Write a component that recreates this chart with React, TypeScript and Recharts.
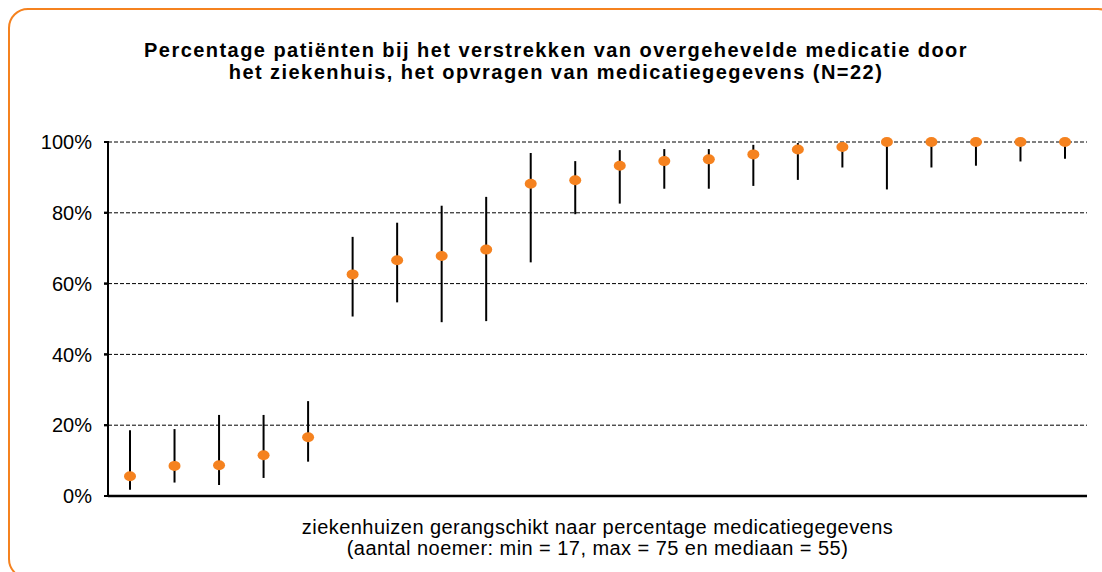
import React from 'react';
import * as Recharts from 'recharts';
import {
  ComposedChart,
  Line,
  ErrorBar,
  XAxis,
  YAxis,
  CartesianGrid,
} from 'recharts';

// ziekenhuizen, gesorteerd op percentage
const hospitals = [
  'Z1', 'Z2', 'Z3', 'Z4', 'Z5', 'Z6', 'Z7', 'Z8', 'Z9', 'Z10', 'Z11',
  'Z12', 'Z13', 'Z14', 'Z15', 'Z16', 'Z17', 'Z18', 'Z19', 'Z20', 'Z21', 'Z22',
];
const percentages = [
  5.6, 8.5, 8.7, 11.5, 16.6, 62.6, 66.6, 67.8, 69.6, 88.2, 89.2,
  93.3, 94.6, 95.1, 96.5, 97.9, 98.6, 100, 100, 100, 100, 100,
];
const lowerBounds = [
  1.8, 3.8, 3.1, 5.1, 9.7, 50.7, 54.7, 49.1, 49.4, 66.0, 79.6,
  82.6, 86.8, 86.8, 87.6, 89.3, 92.8, 86.6, 92.8, 93.3, 94.5, 95.3,
];
const upperBounds = [
  18.6, 18.9, 22.9, 22.9, 26.8, 73.2, 77.2, 82.0, 84.5, 96.9, 94.6,
  97.7, 98.0, 98.0, 99.2, 99.7, 99.9, 100, 100, 100, 100, 100,
];
const yTicks = [0, 20, 40, 60, 80, 100];

const ORANGE = '#F5821F';
const FONT = '"Liberation Sans", Arial, sans-serif';
const TICK_SIZE = 4;
const TICK_MARGIN = 12;

const data = hospitals.map((name, i) => ({
  name,
  value: percentages[i],
  err: [percentages[i] - lowerBounds[i], upperBounds[i] - percentages[i]],
}));

const Dot = (props: any) => {
  const { cx, cy, index } = props;
  if (cx == null || cy == null) return null;
  return <ellipse key={`dot-${index}`} cx={cx} cy={cy} rx={6} ry={5} fill={ORANGE} />;
};

// label + streepje per y-tick
const YTick = (props: any) => {
  const { x, y, payload } = props;
  return (
    <g>
      <line
        x1={x + TICK_MARGIN}
        x2={x + TICK_MARGIN + TICK_SIZE + 1}
        y1={y}
        y2={y}
        stroke="#000"
        strokeWidth={2}
      />
      <text
        x={x}
        y={y}
        dy="0.355em"
        textAnchor="end"
        fill="#000"
        fontSize={20}
        fontFamily={FONT}
      >
        {`${payload.value}%`}
      </text>
    </g>
  );
};

// y-as lijn langs de linkerrand van het plotgebied
const usePlotArea: any = (Recharts as any).usePlotArea;
function YAxisLine() {
  const area = usePlotArea ? usePlotArea() : null;
  if (!area) return null;
  return (
    <line
      x1={area.x}
      x2={area.x}
      y1={area.y - 1}
      y2={area.y + area.height}
      stroke="#000"
      strokeWidth={2}
    />
  );
}

export default function App() {
  return (
    <div
      style={{
        position: 'relative',
        width: 1102,
        height: 572,
        overflow: 'hidden',
        background: '#fff',
        fontFamily: FONT,
      }}
    >
      <style>{'body { margin: 0; }'}</style>
      <ComposedChart
        width={1102}
        height={572}
        data={data}
        margin={{ top: 142, right: 15, bottom: 75, left: 0 }}
      >
        <CartesianGrid
          vertical={false}
          stroke="#000"
          strokeDasharray="4 2"
        />
        <XAxis
          dataKey="name"
          tick={false}
          tickLine={false}
          height={1}
          padding={{ left: 22, right: 22 }}
          axisLine={{ stroke: '#000', strokeWidth: 2.5 }}
        />
        <YAxis
          width={108}
          domain={[0, 100]}
          ticks={yTicks}
          interval={0}
          tickSize={TICK_SIZE}
          tickMargin={TICK_MARGIN}
          axisLine={{ stroke: '#000', strokeWidth: 2 }}
          tickLine={{ stroke: '#000', strokeWidth: 2 }}
          tick={<YTick />}
        />
        <Line
          dataKey="value"
          stroke="none"
          dot={Dot}
          activeDot={false}
          isAnimationActive={false}
        >
          <ErrorBar
            dataKey="err"
            direction="y"
            width={0}
            stroke="#000"
            strokeWidth={2}
          />
        </Line>
        <YAxisLine />
      </ComposedChart>
      <div
        style={{
          position: 'absolute',
          left: 8,
          top: 8,
          width: 1106,
          height: 567,
          border: `2px solid ${ORANGE}`,
          borderRadius: 20,
          pointerEvents: 'none',
        }}
      />
      <div
        style={{
          position: 'absolute',
          left: 0,
          width: 1112,
          top: 39,
          textAlign: 'center',
          fontWeight: 'bold',
          fontSize: 20,
          lineHeight: '22px',
          letterSpacing: 1.45,
          color: '#000',
        }}
      >
        Percentage patiënten bij het verstrekken van overgehevelde medicatie door
        <br />
        het ziekenhuis, het opvragen van medicatiegegevens (N=22)
      </div>
      <div
        style={{
          position: 'absolute',
          left: 0,
          width: 1195,
          top: 517,
          textAlign: 'center',
          fontSize: 20,
          lineHeight: '21px',
          letterSpacing: 0.45,
          color: '#000',
        }}
      >
        ziekenhuizen gerangschikt naar percentage medicatiegegevens
        <br />
        (aantal noemer: min = 17, max = 75 en mediaan = 55)
      </div>
    </div>
  );
}
